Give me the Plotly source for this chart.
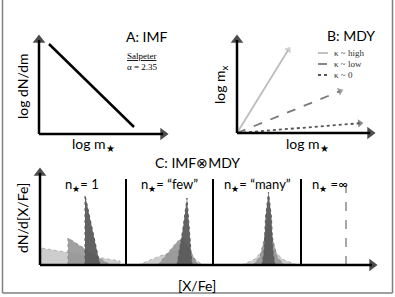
import plotly.graph_objects as go

W, H = 395, 297

# ---------------- data (schematic) ----------------
# Panel A: IMF line (log m*, log dN/dm) in panel units
imf_logm = [10, 95]
imf_logdn = [90, 7]

# Panel B: MDY arrows (log m*, log m_x) end points, starting at origin
mdy_names = ["κ ~ high", "κ ~ low", "κ ~ 0"]
mdy_logm_end = [53, 106, 126]
mdy_logmx_end = [86, 43, 10]

# Panel C: distributions ([X/Fe], dN/d[X/Fe]) in panel units
n1_light_x = [1, 1, 80, 80]
n1_light_y = [0, 17, 4, 0]
n1_med_x = [28, 28, 70]
n1_med_y = [0, 27, 0]
n1_dark_x = [45, 45, 60]
n1_dark_y = [0, 70, 0]

few_light_x = [98, 120, 138, 150, 163]
few_light_y = [0, 9, 15, 9, 0]
few_med_x = [118, 137, 143, 158]
few_med_y = [0, 23, 27, 0]
few_dark_x = [137, 143, 147, 150, 152]
few_dark_y = [0, 37, 67, 30, 0]

many_light_x = [202, 215, 222, 228.5, 235, 242, 257]
many_light_y = [0, 6, 14, 20, 14, 6, 0]
many_med_x = [213, 220, 224, 228.5, 233, 237, 244]
many_med_y = [0, 8, 25, 45, 25, 8, 0]
many_dark_x = [222, 224, 225.5, 228.5, 231.5, 233, 235]
many_dark_y = [0, 13, 47, 73, 47, 13, 0]

inf_x = [306, 306]
inf_y = [0, 80]

sep_x = [86, 173, 261]
sub_labels = ["n<sub>★</sub>= 1", "n<sub>★</sub>= “few”", "n<sub>★</sub>= “many”", "n<sub>★</sub> =∞"]

# ---------------- layout helpers ----------------
SANS = "Lato"
SERIF = "Liberation Serif"
PAD = 8

panels = {
    "A": (39, 168, 35, 134),
    "B": (237, 375, 35, 133),
    "C": (40, 377, 168, 265),
}

fig = go.Figure()
layout = dict(width=W, height=H, margin=dict(l=0, r=0, t=0, b=0),
              paper_bgcolor="white", plot_bgcolor="rgba(0,0,0,0)",
              showlegend=False)
ax_ids = {"A": ("x", "y"), "B": ("x2", "y2"), "C": ("x3", "y3")}
for i, (k, (x0, x1, yt, yb)) in enumerate(panels.items()):
    sfx = "" if i == 0 else str(i + 1)
    layout["xaxis" + sfx] = dict(domain=[(x0 - PAD) / W, (x1 + PAD) / W],
                                 range=[-PAD, x1 - x0 + PAD], visible=False,
                                 anchor="y" + sfx, fixedrange=True)
    layout["yaxis" + sfx] = dict(domain=[1 - (yb + PAD) / H, 1 - (yt - PAD) / H],
                                 range=[-PAD, yb - yt + PAD], visible=False,
                                 anchor="x" + sfx, fixedrange=True)
fig.update_layout(**layout)

annotations = []
shapes = []

HEAD = 5  # arrow head half-length (px)

def arrow(xa, ya, tx, ty, color, width, dash="solid", size=10):
    # line from origin to just before the tip, triangle head pointing along the line
    import math
    L = math.hypot(tx, ty)
    ux, uy = tx / L, ty / L
    h = size * 0.45
    bx, by = tx - ux * h, ty - uy * h
    fig.add_trace(go.Scatter(x=[0, bx], y=[0, by], mode="lines",
                             line=dict(color=color, width=width, dash=dash),
                             xaxis=xa, yaxis=ya, hoverinfo="skip", cliponaxis=False))
    fig.add_trace(go.Scatter(x=[0, bx], y=[0, by], mode="markers",
                             marker=dict(symbol="triangle-up", size=[0, size], color=color,
                                         angleref="previous", line=dict(width=0)),
                             xaxis=xa, yaxis=ya, hoverinfo="skip", cliponaxis=False))

# Panel A
fig.add_trace(go.Scatter(x=imf_logm, y=imf_logdn, mode="lines",
                         line=dict(color="black", width=2.5), xaxis="x", yaxis="y",
                         hoverinfo="skip"))

# Panel B
mdy_styles = [("#bdbdbd", "solid"), ("#7a7a7a", "dash"), ("#555555", "dot")]
for name, ex, ey, (c, d) in zip(mdy_names, mdy_logm_end, mdy_logmx_end, mdy_styles):
    arrow("x2", "y2", ex, ey, c, 1.8, d, size=7)

# Panel C distributions
def poly(xs, ys, fill, edge):
    fig.add_trace(go.Scatter(x=xs, y=ys, mode="lines", fill="toself",
                             fillcolor=fill, line=dict(color=edge, width=1, dash="dot"),
                             xaxis="x3", yaxis="y3", hoverinfo="skip"))

LIGHT, LEDGE = "rgba(200,200,200,0.9)", "#b0b0b0"
MED, MEDGE = "rgba(150,150,150,0.9)", "#8a8a8a"
DARK, DEDGE = "rgba(90,90,90,0.95)", "#5a5a5a"
for lx, ly, mx, my, dx_, dy_ in [
    (n1_light_x, n1_light_y, n1_med_x, n1_med_y, n1_dark_x, n1_dark_y),
    (few_light_x, few_light_y, few_med_x, few_med_y, few_dark_x, few_dark_y),
    (many_light_x, many_light_y, many_med_x, many_med_y, many_dark_x, many_dark_y),
]:
    poly(lx, ly, LIGHT, LEDGE)
    poly(mx, my, MED, MEDGE)
    poly(dx_, dy_, DARK, DEDGE)

fig.add_trace(go.Scatter(x=inf_x, y=inf_y, mode="lines",
                         line=dict(color="#8a8a8a", width=1.5, dash="dash"),
                         xaxis="x3", yaxis="y3", hoverinfo="skip"))

for sx in sep_x:
    shapes.append(dict(type="line", xref="x3", yref="y3", x0=sx, x1=sx, y0=0, y1=86,
                       line=dict(color="black", width=2)))

# axes with arrow heads
for k, (x0, x1, yt, yb) in panels.items():
    xa, ya = ax_ids[k]
    arrow(xa, ya, x1 - x0, 0, "black", 2.5, size=11)
    arrow(xa, ya, 0, yb - yt, "black", 2.5, size=11)

# ---------------- text ----------------
def txt(text, px, py, size, font=SANS, angle=0, xanchor="center", color="black"):
    annotations.append(dict(text=text, x=px / W, y=1 - py / H, xref="paper", yref="paper",
                            showarrow=False, xanchor=xanchor, yanchor="middle",
                            textangle=angle, font=dict(family=font, size=size, color=color)))

txt("A: IMF", 146, 36, 14)
txt("B: MDY", 351, 35, 14)
txt("C: IMF⊗MDY", 197, 162, 14)
txt("log dN/dm", 22, 86, 14, angle=-90)
txt("log m<sub>x</sub>", 221, 85, 14, angle=-90)
txt("dN/d[X/Fe]", 22, 218, 14, angle=-90)
txt("log m<sub>★</sub>", 93, 144, 14)
txt("log m<sub>★</sub>", 307, 144, 14)
txt("[X/Fe]", 197, 285, 14)
txt("<u>Salpeter</u>", 125, 56, 9, font=SERIF, xanchor="left")
txt("α = 2.35", 125, 67, 9, font=SERIF, xanchor="left")

sub_cx = [82, 169, 257, 330]
for lab, cx in zip(sub_labels, sub_cx):
    txt(lab, cx, 185, 13)

leg_y = [53, 64, 75]
for name, ly, (c, d) in zip(mdy_names, leg_y, mdy_styles):
    shapes.append(dict(type="line", xref="paper", yref="paper",
                       x0=318 / W, x1=328 / W, y0=1 - ly / H, y1=1 - ly / H,
                       line=dict(color=c, width=1.8, dash=d)))
    txt(name, 332, ly, 9, font=SERIF, xanchor="left", color="#333333")

# border
bc = dict(color="#7f7f7f", width=1.5)
shapes.append(dict(type="line", xref="paper", yref="paper", x0=2.5 / W, x1=2.5 / W, y0=1 - 293 / H, y1=1, line=bc))
shapes.append(dict(type="line", xref="paper", yref="paper", x0=392.5 / W, x1=392.5 / W, y0=1 - 293 / H, y1=1, line=bc))
shapes.append(dict(type="line", xref="paper", yref="paper", x0=2.5 / W, x1=392.5 / W, y0=1 - 293 / H, y1=1 - 293 / H, line=bc))

fig.update_layout(annotations=annotations, shapes=shapes)
fig.write_html("out.html", config={"displayModeBar": False},
               post_script="document.body.style.margin='0';")
